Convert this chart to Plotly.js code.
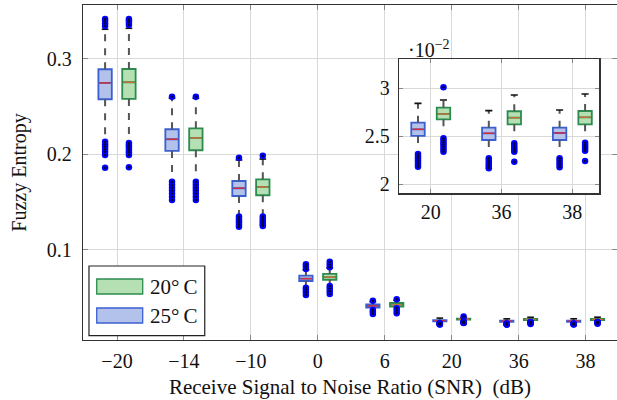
<!DOCTYPE html>
<html><head><meta charset="utf-8">
<script src="https://cdn.plot.ly/plotly-3.0.1.min.js"></script>
<style>html,body{margin:0;padding:0;background:#fff}#chart{width:617px;height:400px}</style>
</head><body><div id="chart"></div>
<script>
// ---------------- data ----------------
const categories = ['\u221220', '\u221214', '\u221210', '0', '6', '20', '36', '38'];
const yTickVals = [0.1, 0.2, 0.3];
const yTickText = ['0.1', '0.2', '0.3'];
const insetIdx = [5, 6, 7];
const insetCats = ['20', '36', '38'];
const insetTickVals = [0.02, 0.025, 0.03];
const insetTickText = ['2', '2.5', '3'];

// 25 °C (blue)
const q1_25  = [0.2576, 0.2035, 0.1563, 0.0673, 0.0394, 0.02502, 0.02460, 0.02460];
const med_25 = [0.2747, 0.2157, 0.1644, 0.0697, 0.0412, 0.02571, 0.02530, 0.02533];
const q3_25  = [0.2890, 0.2262, 0.1720, 0.0729, 0.0429, 0.02641, 0.02589, 0.02589];
const lo_25  = [0.2160, 0.1765, 0.1364, 0.0614, 0.0380, 0.02383, 0.02338, 0.02338];
const hi_25  = [0.3309, 0.2586, 0.1940, 0.0788, 0.0455, 0.02843, 0.02767, 0.02774];
const out_25 = [
  [0.3343, 0.3370, 0.3395, 0.3417, 0.2132, 0.2105, 0.2080, 0.2055, 0.2025, 0.1993, 0.1860],
  [0.2603, 0.1713, 0.1680, 0.1650, 0.1620, 0.1590, 0.1555, 0.1521],
  [0.1964, 0.1347, 0.1325, 0.1305, 0.1285, 0.1262, 0.1242],
  [0.0848, 0.0825, 0.0799, 0.0603, 0.0580, 0.0555, 0.0527],
  [0.0467, 0.0370, 0.0350, 0.0328],
  [0.02314, 0.02290, 0.02268, 0.02245, 0.02222, 0.02200, 0.02181],
  [0.02268, 0.02245, 0.02222, 0.02200, 0.02180, 0.02164],
  [0.02268, 0.02245, 0.02222, 0.02200, 0.02174]
];

// 20 °C (green)
const q1_20  = [0.2579, 0.2042, 0.1571, 0.0684, 0.0404, 0.02676, 0.02624, 0.02624];
const med_20 = [0.2754, 0.2171, 0.1658, 0.0712, 0.0425, 0.02732, 0.02693, 0.02697];
const q3_20  = [0.2893, 0.2272, 0.1738, 0.0747, 0.0443, 0.02798, 0.02760, 0.02763];
const lo_20  = [0.2160, 0.1765, 0.1364, 0.0625, 0.0395, 0.02547, 0.02495, 0.02495];
const hi_20  = [0.3319, 0.2586, 0.1950, 0.0810, 0.0470, 0.02878, 0.02930, 0.02940];
const out_20 = [
  [0.3354, 0.3380, 0.3400, 0.3417, 0.2118, 0.2095, 0.2070, 0.2045, 0.2020, 0.1993, 0.1864],
  [0.2603, 0.1713, 0.1680, 0.1650, 0.1620, 0.1590, 0.1555, 0.1521],
  [0.1985, 0.1347, 0.1325, 0.1305, 0.1285, 0.1265, 0.1249],
  [0.0875, 0.0845, 0.0817, 0.0621, 0.0595, 0.0565, 0.0537],
  [0.0482, 0.0387, 0.0360, 0.0335],
  [0.0301, 0.02477, 0.02455, 0.02432, 0.02410, 0.02388, 0.02360, 0.02338],
  [0.02425, 0.02400, 0.02375, 0.02355, 0.02338, 0.02233],
  [0.02432, 0.02410, 0.02390, 0.02370, 0.02348, 0.02240]
];

// ---------------- styles ----------------
const blue = {fill: '#b3c2ea', edge: '#3b5fd0', med: '#d22f3c'};
const green = {fill: '#b4e0b4', edge: '#2b8c4e', med: '#c8703a'};

function seriesTraces(idxs, q1, med, q3, lo, hi, outs, offset, bw, st, xa, ya) {
  const xs = idxs.map((k, j) => j + offset);
  const pick = a => idxs.map(k => a[k]);
  const tr = [];
  tr.push({
    type: 'box', orientation: 'v', x: xs,
    q1: pick(q1), median: pick(med), q3: pick(q3),
    lowerfence: pick(q1), upperfence: pick(q3),
    width: bw, whiskerwidth: 0, boxpoints: false,
    fillcolor: st.fill, line: {color: st.edge, width: 1.8},
    hoverinfo: 'skip', showlegend: false, xaxis: xa, yaxis: ya
  });
  const wx = [], wy = [], mx = [], my = [], cx = [], cy = [], ox = [], oy = [];
  idxs.forEach((k, j) => {
    const x = j + offset;
    wx.push(x, x, null, x, x, null);
    wy.push(q3[k], hi[k], null, q1[k], lo[k], null);
    mx.push(x - bw / 2 + 0.02, x + bw / 2 - 0.02, null);
    my.push(med[k], med[k], null);
    cx.push(x - 0.05, x + 0.05, null);
    cy.push(hi[k], hi[k], null);
    outs[k].forEach(v => { ox.push(x); oy.push(v); });
  });
  const common = {type: 'scatter', hoverinfo: 'skip', showlegend: false, xaxis: xa, yaxis: ya};
  tr.push(Object.assign({}, common, {x: wx, y: wy, mode: 'lines', line: {color: '#555', width: 2, dash: '7px,7px'}}));
  tr.push(Object.assign({}, common, {x: cx, y: cy, mode: 'lines', line: {color: '#111', width: 1.6}}));
  tr.push(Object.assign({}, common, {x: mx, y: my, mode: 'lines', line: {color: st.med, width: 1.5}}));
  tr.push(Object.assign({}, common, {x: ox, y: oy, mode: 'markers', marker: {color: '#0000ff', size: 6.5, line: {width: 0}}}));
  tr.push(Object.assign({}, common, {x: ox, y: oy, mode: 'markers', marker: {color: '#000033', size: 2.5, line: {width: 0}}}));
  return tr;
}

const allIdx = categories.map((c, i) => i);
let data = [];
data = data.concat(seriesTraces(allIdx, q1_25, med_25, q3_25, lo_25, hi_25, out_25, -0.178, 0.2, blue, 'x', 'y'));
data = data.concat(seriesTraces(allIdx, q1_20, med_20, q3_20, lo_20, hi_20, out_20, 0.178, 0.2, green, 'x', 'y'));
data = data.concat(seriesTraces(insetIdx, q1_25, med_25, q3_25, lo_25, hi_25, out_25, -0.18, 0.19, blue, 'x2', 'y2'));
data = data.concat(seriesTraces(insetIdx, q1_20, med_20, q3_20, lo_20, hi_20, out_20, 0.18, 0.19, green, 'x2', 'y2'));

const axisCommon = {
  showgrid: true, gridcolor: '#d9d9d9', gridwidth: 1,
  ticks: 'inside', ticklen: 5, tickcolor: '#888', tickwidth: 1,
  mirror: 'allticks', showline: true, linecolor: '#333', linewidth: 1.2,
  zeroline: false, automargin: false, fixedrange: true
};

const fontFam = 'Liberation Serif, Times New Roman, serif';

const layout = {
  width: 617, height: 400,
  margin: {l: 83, r: 0, t: 5, b: 60},
  paper_bgcolor: '#ffffff', plot_bgcolor: '#ffffff',
  font: {family: fontFam, size: 20, color: '#111'},
  showlegend: false,
  xaxis: Object.assign({}, axisCommon, {
    range: [-0.508, 7.469], tickmode: 'array', tickvals: allIdx, ticktext: categories,
    ticklabelstandoff: 3, tickfont: {family: fontFam, size: 20},
    title: {text: 'Receive Signal to Noise Ratio (SNR)\u00a0\u00a0(dB)', font: {family: fontFam, size: 21}, standoff: 8}
  }),
  yaxis: Object.assign({}, axisCommon, {
    range: [0.0055, 0.3563], tickmode: 'array', tickvals: yTickVals, ticktext: yTickText,
    ticklabelstandoff: 6, tickfont: {family: fontFam, size: 20},
    title: {text: 'Fuzzy Entropy', font: {family: fontFam, size: 20}, standoff: 14}
  }),
  xaxis2: Object.assign({}, axisCommon, {
    domain: [0.5918, 0.9669], anchor: 'y2', range: [-0.448, 2.381],
    tickmode: 'array', tickvals: [0, 1, 2], ticktext: insetCats, ticklen: 4,
    tickfont: {family: fontFam, size: 20}
  }),
  yaxis2: Object.assign({}, axisCommon, {
    domain: [0.4379, 0.8379], anchor: 'x2', range: [0.01903, 0.03303],
    tickmode: 'array', tickvals: insetTickVals, ticktext: insetTickText, ticklen: 4,
    ticklabelstandoff: 4, tickfont: {family: fontFam, size: 20}
  }),
  shapes: [
    {type: 'rect', xref: 'paper', yref: 'paper', x0: 0.0112, x1: 0.228, y0: 0.0128, y1: 0.2209,
     line: {color: '#222', width: 1.2}, fillcolor: '#ffffff', layer: 'above'},
    {type: 'rect', xref: 'paper', yref: 'paper', x0: 0.0257, x1: 0.1118, y0: 0.1373, y1: 0.1821,
     line: {color: green.edge, width: 1.3}, fillcolor: green.fill, layer: 'above'},
    {type: 'rect', xref: 'paper', yref: 'paper', x0: 0.0257, x1: 0.1118, y0: 0.0507, y1: 0.0955,
     line: {color: blue.edge, width: 1.3}, fillcolor: blue.fill, layer: 'above'}
  ],
  annotations: [
    {xref: 'paper', yref: 'paper', x: 0.121, y: 0.159, xanchor: 'left', yanchor: 'middle',
     text: '20\u00b0\u2009C', showarrow: false, font: {family: fontFam, size: 21}},
    {xref: 'paper', yref: 'paper', x: 0.121, y: 0.073, xanchor: 'left', yanchor: 'middle',
     text: '25\u00b0\u2009C', showarrow: false, font: {family: fontFam, size: 21}},
    {xref: 'paper', yref: 'paper', x: 0.604, y: 0.868, xanchor: 'left', yanchor: 'middle',
     text: '\u00b710<sup>\u22122</sup>', showarrow: false, font: {family: fontFam, size: 20}}
  ]
};

Plotly.newPlot('chart', data, layout, {staticPlot: true, displayModeBar: false});
</script></body></html>
